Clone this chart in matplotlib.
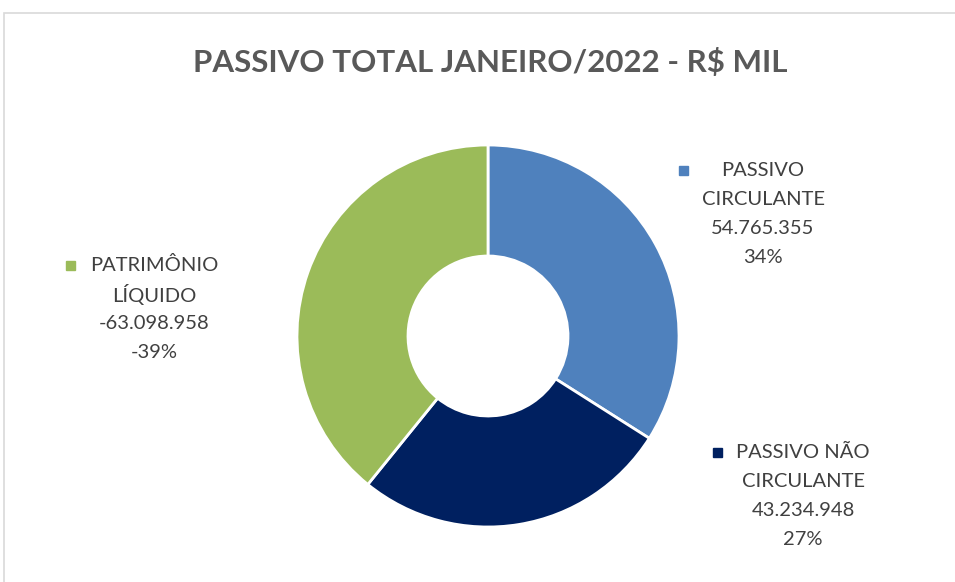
import matplotlib.pyplot as plt
from matplotlib.patches import Rectangle

titulo = "PASSIVO TOTAL JANEIRO/2022 - R$ MIL"
categorias = ["PASSIVO\nCIRCULANTE", "PASSIVO NÃO\nCIRCULANTE", "PATRIMÔNIO\nLÍQUIDO"]
valores = [54765355, 43234948, -63098958]
valores_txt = ["54.765.355", "43.234.948", "-63.098.958"]
percentuais = ["34%", "27%", "-39%"]
cores = ["#4F81BD", "#002060", "#9BBB59"]

W, H = 955, 582
fig = plt.figure(figsize=(9.55, 5.82), dpi=100)
ax = fig.add_axes([0, 0, 1, 1])

# moldura do gráfico (cortada à direita e embaixo)
fig.patches.append(Rectangle((4 / W, -0.1), 1.2, (H - 13) / H + 0.1, transform=fig.transFigure,
                             fill=False, edgecolor="#D9D9D9", linewidth=1.2))

fig.text(490 / W, 1 - 62 / H, titulo, ha="center", va="center", fontsize=22.5,
         fontweight="bold", color="#595959", family="Lato")

cx, cy, r = 488, H - 336, 191
ax.pie([abs(v) for v in valores], colors=cores, startangle=90, counterclock=False,
       center=(cx, cy), radius=r, frame=True,
       wedgeprops=dict(width=r - 80, edgecolor="white", linewidth=2))
ax.set_xlim(0, W)
ax.set_ylim(0, H)
ax.axis("off")

# rótulos: (x do texto, y da 1a linha, x do marcador)
pos = [(763, 170, 683), (803, 452, 717), (154, 265, 70)]
for (tx, ty, mx), cat, vt, pc, c in zip(pos, categorias, valores_txt, percentuais, cores):
    linhas = cat.split("\n") + [vt, pc]
    for i, ln in enumerate(linhas):
        ax.text(tx, H - (ty + 29.3 * i), ln, ha="center", va="center", fontsize=14.5,
                color="#404040", family="Lato")
    ax.add_patch(Rectangle((mx - 4.5, H - ty - 4.5), 9, 9, color=c))

fig.savefig("out.png", dpi=100, facecolor="white")
